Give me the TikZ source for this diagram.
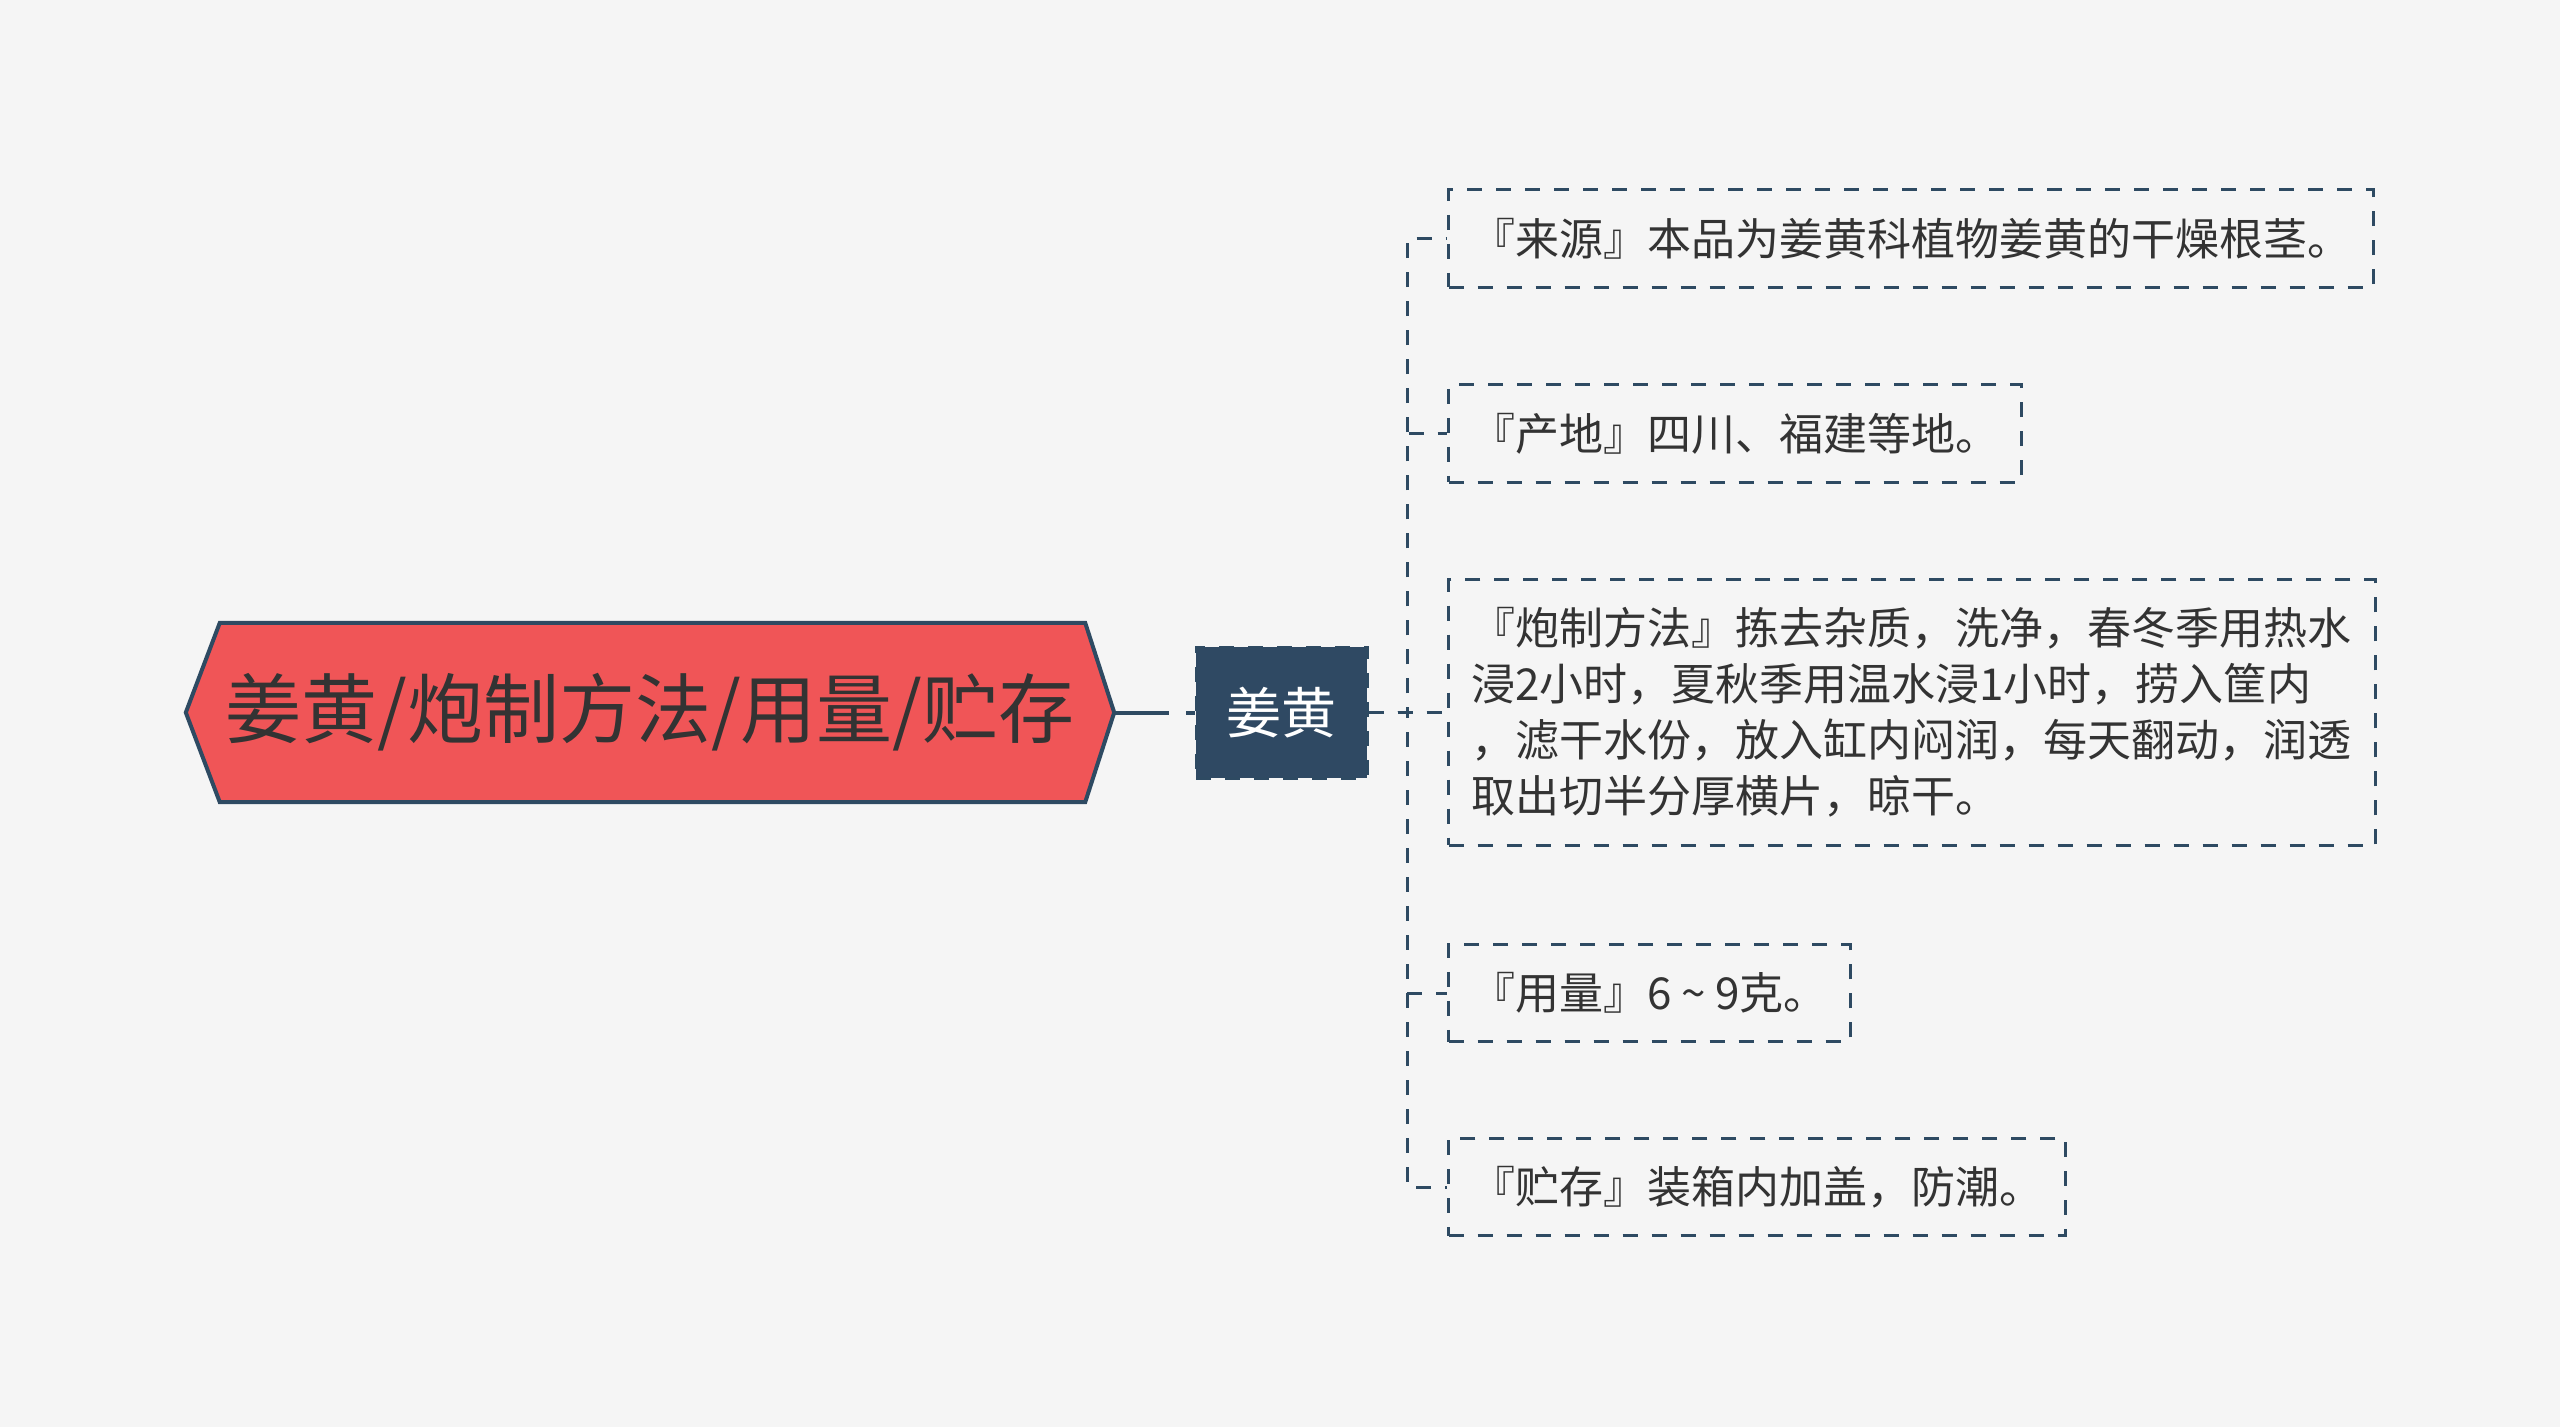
\documentclass[tikz,border=0pt]{standalone}
\usepackage{fontspec}
\newfontfamily\cjk{Noto Sans CJK SC}
\usetikzlibrary{backgrounds}
\definecolor{bgc}{HTML}{F5F5F5}
\definecolor{linec}{HTML}{2E4A62}
\definecolor{rootfill}{HTML}{F05557}
\definecolor{txt}{HTML}{333333}
\definecolor{jhfill}{HTML}{2F4963}
\begin{document}
\begin{tikzpicture}[x=1pt,y=-1pt,
 rootbox/.style={minimum width=928pt, minimum height=179pt, inner sep=0pt, font=\cjk\fontsize{76}{80}\selectfont, text=txt},
 mainbox/.style={draw=linec, line width=3pt, dash pattern=on 15pt off 14pt, fill=jhfill, minimum width=171pt, minimum height=131pt, inner sep=0pt, font=\cjk\fontsize{55}{60}\selectfont, text=white},
 leaf/.style={draw=linec, line width=3pt, dash pattern=on 15pt off 14pt, inner xsep=22.5pt, inner ysep=28pt, font=\cjk\fontsize{44}{56}\selectfont, text=txt, anchor=west, align=left},
 conn/.style={draw=linec, line width=3pt, dash pattern=on 15pt off 14pt},
 rootconn/.style={draw=linec, line width=4pt, dash pattern=on 55pt off 17pt},
]
\useasboundingbox (0,0) rectangle (2560,1427);
\node[rootbox] (root) at (650,712.5) {姜黄/炮制方法/用量/贮存};
\node[mainbox] (jh) at (1281.5,712.5) {姜黄};
\node[leaf] (b1) at (1447,238.5) {『来源』本品为姜黄科植物姜黄的干燥根茎。};
\node[leaf] (b2) at (1447,433.5) {『产地』四川、福建等地。};
\node[leaf, text width=882pt] (b3) at (1447,712.5) {『炮制方法』拣去杂质，洗净，春冬季用热水\\浸2小时，夏秋季用温水浸1小时，捞入筐内\\，滤干水份，放入缸内闷润，每天翻动，润透\\取出切半分厚横片，晾干。};
\node[leaf] (b4) at (1447,993) {『用量』6\hbox to 44pt{\hss\textasciitilde\hss}9克。};
\node[leaf] (b5) at (1447,1187) {『贮存』装箱内加盖，防潮。};
\coordinate (tr) at (1407,712.5);
\draw[rootconn] (root.east) -- (jh.west);
\draw[conn] (jh.east) -- (tr) |- (b1.west);
\draw[conn] (jh.east) -- (tr) |- (b2.west);
\draw[conn] (jh.east) -- (b3.west);
\draw[conn] (jh.east) -- (tr) |- (b4.west);
\draw[conn] (jh.east) -- (tr) |- (b5.west);
\begin{scope}[on background layer]
\fill[bgc] (0,0) rectangle (2560,1427);
\filldraw[fill=rootfill, draw=linec, line width=4pt, line join=miter]
  (root.west) -- ([xshift=34pt]root.north west) -- ([xshift=-29pt]root.north east)
  -- (root.east) -- ([xshift=-29pt]root.south east) -- ([xshift=34pt]root.south west) -- cycle;
\end{scope}
\end{tikzpicture}
\end{document}
